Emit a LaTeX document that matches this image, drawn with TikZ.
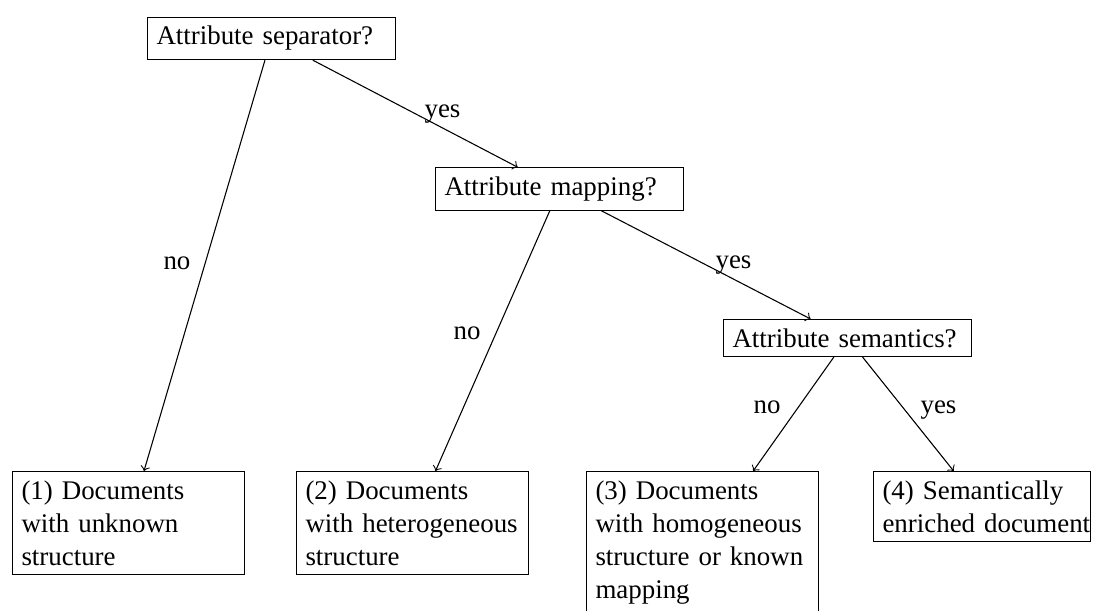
\documentclass[tikz,border=0pt]{standalone}
\usepackage{fontspec}
\setmainfont{Liberation Serif}
% keep whole words in the outcome boxes
\hyphenpenalty=10000
\exhyphenpenalty=10000
\hbadness=10000
\hfuzz=20pt
\begin{document}
\begin{tikzpicture}[
  x=0.3717pt, y=-0.3717pt,
  font=\fontsize{10}{12.3}\selectfont,
  question/.style={draw, text width=3cm, align=left, anchor=west},
  outcome/.style={draw, text width=2.8cm, align=left, anchor=north west},
  answer/.style={inner sep=0pt, anchor=base west},
]
\useasboundingbox (0,0) rectangle (1093,610);

% decision nodes
\node[question] (sep) at (147,38.5) {Attribute separator?};
\node[question] (map) at (435,189) {Attribute mapping?};
\node[question] (sem) at (723,338) {Attribute semantics?};

% outcomes
\node[outcome] (o1) at (12,471) {(1) Documents\\ with unknown\\ structure};
\node[outcome] (o2) at (296,471) {(2) Documents\\ with heterogeneous\\ structure};
\node[outcome] (o3) at (586,471) {(3) Documents\\ with homogeneous\\ structure or known\\ mapping};
\node[outcome, text width=2.6cm] (o4) at (873,471) {(4) Semantically\\ \mbox{enriched document}};

% connectors
\draw[->] (sep) -- (o1);
\draw[->] (sep) -- (map);
\draw[->] (map) -- (o2);
\draw[->] (map) -- (sem);
\draw[->] (sem) -- (o3);
\draw[->] (sem) -- (o4);

% answers
\node[answer] (a1) at (163,269) {no};
\node[answer] (a2) at (424,118) {yes};
\node[answer] (a3) at (453,339) {no};
\node[answer] (a4) at (715,268) {yes};
\node[answer] (a5) at (753,413) {no};
\node[answer] (a6) at (920,413) {yes};
\end{tikzpicture}
\end{document}
